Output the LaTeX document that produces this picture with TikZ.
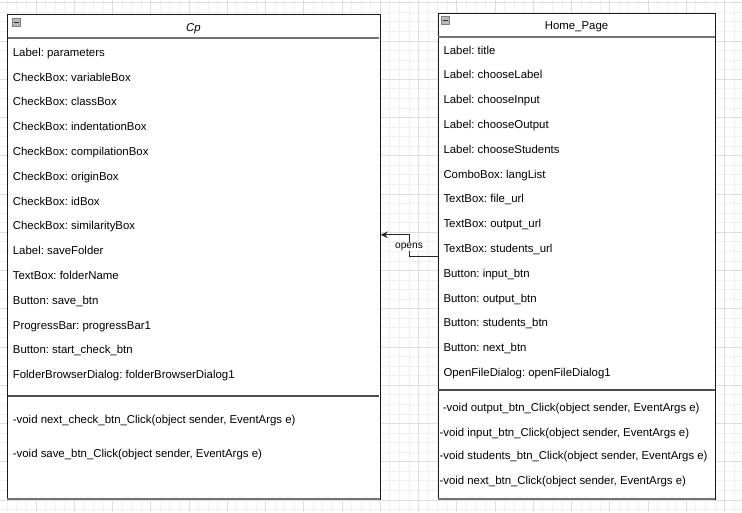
\documentclass[tikz,border=0pt]{standalone}
\usepackage{fontspec}
\setmainfont{Liberation Sans}
\usetikzlibrary{arrows.meta}
\frenchspacing

\tikzset{
  gridminor/.style={draw=black!6, line width=0.8pt},
  gridmajor/.style={draw=black!13, line width=0.8pt},
  classbox/.style={draw=black!90, line width=1pt, fill=white, inner sep=0pt, anchor=north west},
  headsep/.style={draw=black!55, line width=1.8pt},
  methsep/.style={draw=black!70, line width=1.4pt},
  bottomedge/.style={draw=black!55, line width=2pt},
  member/.style={font=\fontsize{11.4}{13}\selectfont, anchor=base west, inner sep=0pt},
  title/.style={font=\fontsize{11.4}{13}\selectfont, inner sep=0pt, anchor=base},
  togglebox/.style={draw=black!50, fill=black!28, minimum size=8pt, inner sep=0pt, line width=0.6pt},
  conn/.style={draw=black!85, line width=1pt, -{Stealth[length=7pt,width=6.5pt]}},
  connlabel/.style={font=\fontsize{10.2}{12}\selectfont, fill=white, inner sep=1pt, anchor=base}
}

\begin{document}
\begin{tikzpicture}[x=1pt, y=-1pt]
\useasboundingbox (0,0) rectangle (742,512);
\fill[white] (0,0) rectangle (742,512);

% background grid: minor and major lines
\begin{scope}
\clip (0,0) rectangle (742,512);
\foreach \i in {0,...,80} {
  \draw[gridminor] ({-2.25+\i*9.5625},0) -- ({-2.25+\i*9.5625},512);
}
\foreach \i in {0,...,55} {
  \draw[gridminor] (0,{2.75+\i*9.5625}) -- (742,{2.75+\i*9.5625});
}
\foreach \i in {0,...,20} {
  \draw[gridmajor] ({-2.25+\i*38.25},0) -- ({-2.25+\i*38.25},512);
}
\foreach \i in {0,...,14} {
  \draw[gridmajor] (0,{2.75+\i*38.25}) -- (742,{2.75+\i*38.25});
}
\end{scope}

% ---------- class Cp ----------
\node[classbox, minimum width=372.4pt, minimum height=484.7pt] (cp) at (7.3,14.3) {};
\draw[headsep] (7.8,38.3) -- (379.2,38.3);
\draw[methsep] (7.8,396) -- (379.2,396);
\draw[bottomedge] (7.3,499) -- (379.7,499);
\node[togglebox] (cptoggle) at (16.2,22.5) {};
\draw[black!80, line width=1pt] (13.6,22.5) -- (18.8,22.5);
\node[title, font=\fontsize{11.4}{13}\selectfont\itshape] (cptitle) at (193.5,31) {Cp};

\foreach \t [count=\i] in {
  Label: parameters,
  CheckBox: variableBox,
  CheckBox: classBox,
  CheckBox: indentationBox,
  CheckBox: compilationBox,
  CheckBox: originBox,
  CheckBox: idBox,
  CheckBox: similarityBox,
  Label: saveFolder,
  TextBox: folderName,
  Button: save\_btn,
  ProgressBar: progressBar1,
  Button: start\_check\_btn,
  FolderBrowserDialog: folderBrowserDialog1}
{
  \node[member] (cpattr\i) at (12.7,{56.3+(\i-1)*24.8}) {\t};
}
\node[member] (cpm1) at (12.7,423.3) {-void next\_check\_btn\_Click(object sender, EventArgs e)};
\node[member] (cpm2) at (12.7,457.3) {-void save\_btn\_Click(object sender, EventArgs e)};

% ---------- class Home_Page ----------
\node[classbox, minimum width=277.6pt, minimum height=486.6pt] (home) at (437.7,12.7) {};
\draw[headsep] (438.2,37) -- (714.8,37);
\draw[methsep] (438.2,390) -- (714.8,390);
\draw[bottomedge] (437.7,499.3) -- (715.3,499.3);
\node[togglebox] (hometoggle) at (445.2,20.5) {};
\draw[black!80, line width=1pt] (442.6,20.5) -- (447.8,20.5);
\node[title] (hometitle) at (576.5,29.3) {Home\_Page};

\foreach \t [count=\i] in {
  Label: title,
  Label: chooseLabel,
  Label: chooseInput,
  Label: chooseOutput,
  Label: chooseStudents,
  ComboBox: langList,
  TextBox: file\_url,
  TextBox: output\_url,
  TextBox: students\_url,
  Button: input\_btn,
  Button: output\_btn,
  Button: students\_btn,
  Button: next\_btn,
  OpenFileDialog: openFileDialog1}
{
  \node[member] (homeattr\i) at (443.3,{54+(\i-1)*24.8}) {\t};
}
\node[member] (homem1) at (442.7,411.3) {-void output\_btn\_Click(object sender, EventArgs e)};
\node[member] (homem2) at (439.3,436.3) {-void input\_btn\_Click(object sender, EventArgs e)};
\node[member] (homem3) at (439.3,459.7) {-void students\_btn\_Click(object sender, EventArgs e)};
\node[member] (homem4) at (439.3,484) {-void next\_btn\_Click(object sender, EventArgs e)};

% ---------- association ----------
\draw[conn] (home.west) -- ++(-28.7,0) |- ([yshift=22.35pt]cp.east);
\node[connlabel] (opens) at (409,248) {opens};

\end{tikzpicture}
\end{document}
